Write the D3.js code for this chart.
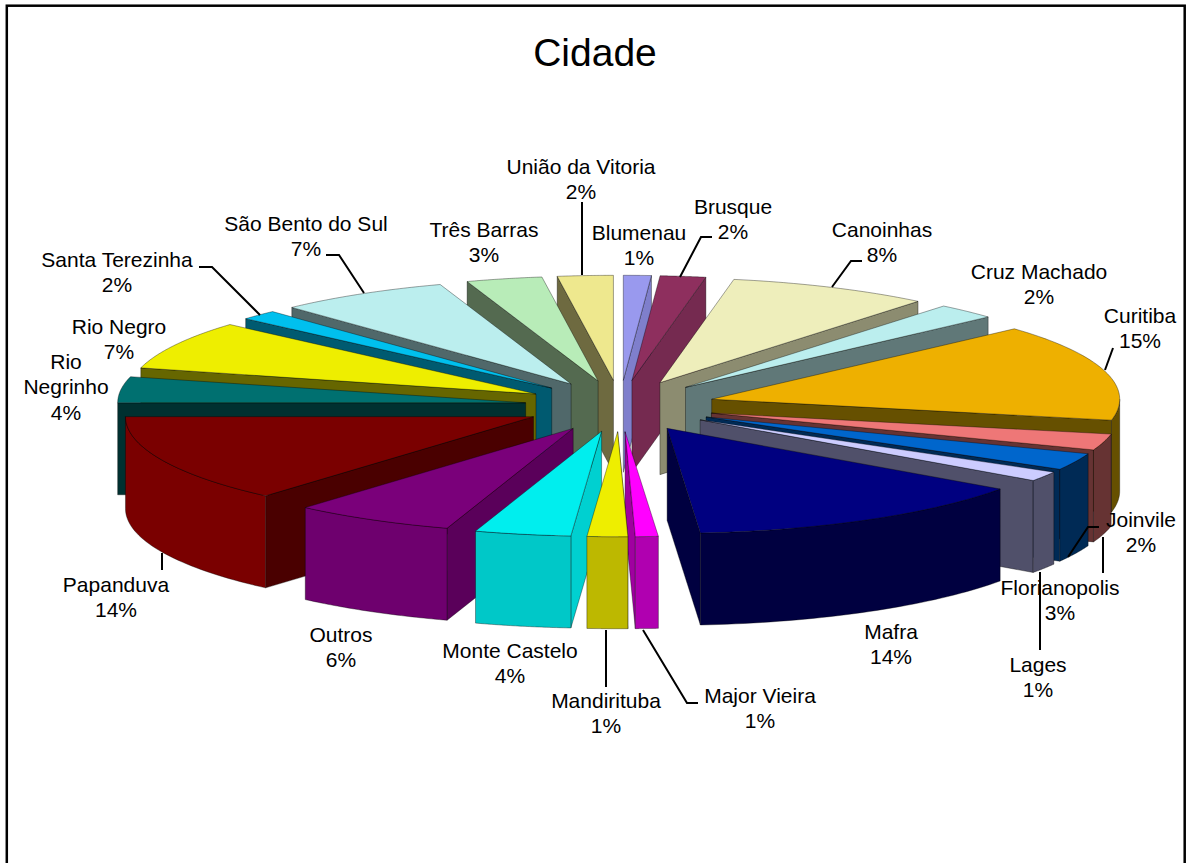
<!DOCTYPE html>
<html><head><meta charset="utf-8"><style>html,body{margin:0;padding:0;background:#fff}svg{display:block}</style>
<script src="https://cdn.jsdelivr.net/npm/d3@7"></script></head><body><svg id="c" width="1187" height="863"></svg>
<script>
const cities=["Blumenau","Brusque","Canoinhas","Cruz Machado","Curitiba","Joinvile","Florianopolis","Lages","Mafra","Major Vieira","Mandirituba","Monte Castelo","Outros","Papanduva","Rio Negrinho","Rio Negro","Santa Terezinha","São Bento do Sul","Três Barras","União da Vitoria"];
const shares=[1.1,1.8,8.0,2.4,14.9,2.5,2.6,1.5,13.9,0.9,1.6,3.8,6.4,13.6,4.0,7.5,1.5,6.8,3.0,2.2];
const percentLabels=[1,2,8,2,15,2,3,1,14,1,1,4,6,14,4,7,2,7,3,2];
const topColors=["#9999ee","#8e2f5e","#eeeebb","#bbeeee","#eeb000","#ee7777","#0066cc","#ccccff","#000080","#ff00ff","#eeee00","#00eeee","#7a007a","#7a0000","#007070","#eeee00","#00c0ee","#bbeeee","#b8ecb8","#eee88e"];
const wallColors=["#7f7fcc","#752a50","#8c8c70","#607878","#665000","#663333","#002a55","#50506a","#000040","#b000b0","#bdb800","#00c8c8","#6e006e","#7a0000","#003030","#666600","#005a70","#50686a","#546a50","#6e6a40"];
const radialColors=["#7f7fcc","#752a50","#8c8c70","#607878","#665000","#663333","#002a55","#50506a","#000040","#a000a0","#bdb800","#00d0d0","#5a005a","#4a0000","#003030","#666600","#005a70","#50686a","#546a50","#6e6a40"];
const labelLines=[["Blumenau"],["Brusque"],["Canoinhas"],["Cruz Machado"],["Curitiba"],["Joinvile"],["Florianopolis"],["Lages"],["Mafra"],["Major Vieira"],["Mandirituba"],["Monte Castelo"],["Outros"],["Papanduva"],["Rio","Negrinho"],["Rio Negro"],["Santa Terezinha"],["São Bento do Sul"],["Três Barras"],["União da Vitoria"]];
const labelAnchors=[[639,233],[733,207],[882,230],[1039,272],[1140,316],[1141,520],[1060,588],[1038,665],[891,632],[760,696],[606,701],[510,651],[341,635],[116,585],[66,362],[119,327],[117,260],[306,224],[484,230],[581,167]];
const leaders=[[[582,275],[582,202]],[[680,277],[701,237],[712,237]],[[832,287],[851,261],[862,261]],[[1105,370],[1113,348]],[[1068,557],[1088,527],[1099,527]],[[1103,537],[1103,573]],[[1040,572],[1040,650]],[[643,630],[687,703],[698,703]],[[606,630],[606,687]],[[162,553],[162,570]],[[364,293],[339,255],[326,255]],[[260,315],[212,267],[199,267]]];

const svg=d3.select("#c");
const W=1187,H=863,cx=620,cy=406,depth=92;
svg.append("rect").attr("x",6.8).attr("y",5.7).attr("width",1177.9).attr("height",880).attr("fill","#fff").attr("stroke","#000").attr("stroke-width",2.5);
const sx=d3.scaleLinear().domain([-1,1]).range([-408,408]);
const sy=d3.scaleLinear().domain([-1,1]).range([-105,105]);
const explodeX=0.233,explodeY=0.245;
const pie=d3.pie().sort(null).value(d=>d)(shares);
const pt=(a,r,o)=>[cx+sx(o.ex+r*Math.sin(a)),cy+sy(o.ey-r*Math.cos(a))];
const line=d3.line();
const slices=pie.map((p,i)=>{const m=(p.startAngle+p.endAngle)/2;return{...p,i,m,ex:explodeX*Math.sin(m),ey:-explodeY*Math.cos(m)};});
const order=slices.slice().sort((a,b)=>(-Math.cos(a.m))-(-Math.cos(b.m)));
const down=p=>[p[0],p[1]+depth];
const g=svg.append("g");
order.forEach(s=>{
  const gs=g.append("g");
  const apex=pt(0,0,s);
  const wallA=s.m<Math.PI?s.endAngle:s.startAngle;
  const e=pt(wallA,1,s);
  gs.append("path").attr("d",line([apex,e,down(e),down(apex)])+"Z").attr("fill",radialColors[s.i]).attr("stroke","#000").attr("stroke-opacity",.45).attr("stroke-width",.8);
  const a0=Math.max(s.startAngle,Math.PI/2),a1=Math.min(s.endAngle,3*Math.PI/2);
  if(a1>a0){
    const arc=d3.range(0,41).map(k=>pt(a0+(a1-a0)*k/40,1,s));
    gs.append("path").attr("d",line(arc.concat(arc.slice().reverse().map(down)))+"Z").attr("fill",wallColors[s.i]).attr("stroke","#000").attr("stroke-opacity",.45).attr("stroke-width",.8);
  }
  const rim=d3.range(0,41).map(k=>pt(s.startAngle+(s.endAngle-s.startAngle)*k/40,1,s));
  gs.append("path").attr("d",line([apex,...rim])+"Z").attr("fill",topColors[s.i]).attr("stroke","#000").attr("stroke-opacity",.45).attr("stroke-width",.8);
});
svg.append("g").selectAll("path").data(leaders).join("path").attr("d",d=>line(d)).attr("fill","none").attr("stroke","#000").attr("stroke-width",2);
const fs=21,lh=25.3;
const lab=svg.append("g").attr("font-family","'Liberation Sans',Arial,sans-serif").attr("font-size",fs).attr("fill","#000").attr("text-anchor","middle");
cities.forEach((c,i)=>{
  const lines=[...labelLines[i],percentLabels[i]+"%"];
  const[x,y]=labelAnchors[i];
  lines.forEach((t,k)=>lab.append("text").attr("x",x).attr("y",y+7+k*lh).text(t));
});
svg.append("text").attr("x",595).attr("y",66).attr("text-anchor","middle").attr("font-family","'Liberation Sans',Arial,sans-serif").attr("font-size",39).text("Cidade");
</script></body></html>
